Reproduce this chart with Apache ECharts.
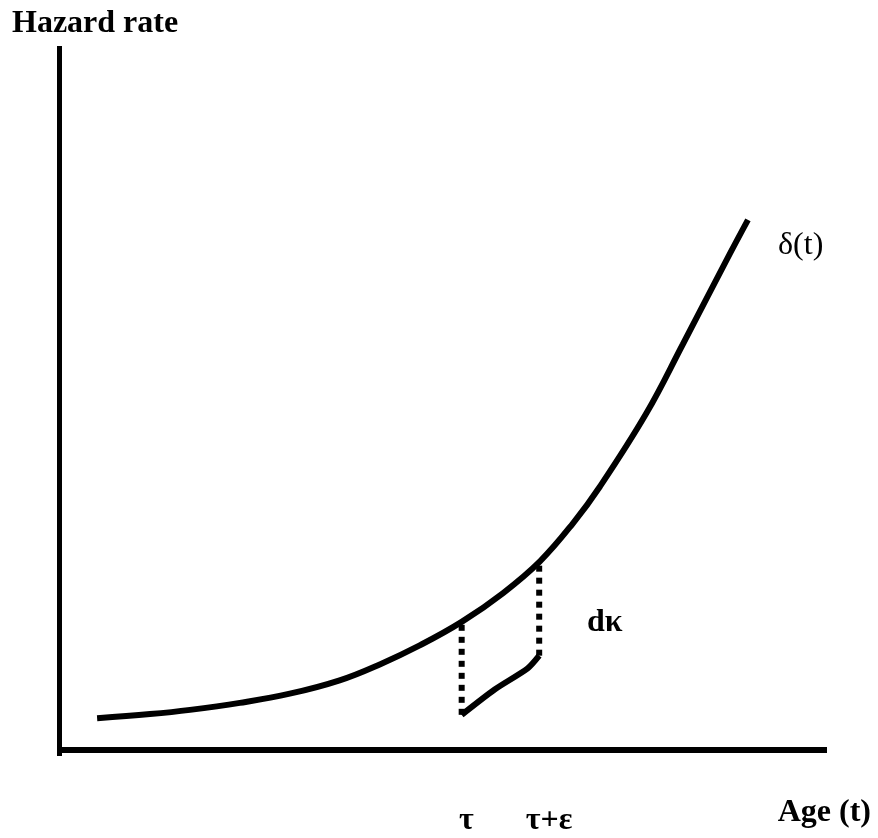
<!DOCTYPE html>
<html>
<head>
<meta charset="utf-8">
<script src="https://cdn.jsdelivr.net/npm/echarts@6/dist/echarts.min.js"></script>
<style>html,body{margin:0;padding:0;background:#fff;}#c{width:878px;height:838px;}</style>
</head>
<body>
<div id="c"></div>
<script>
// Hazard curve delta(t): [age, hazard] in arbitrary units (axis 0..100)
var hazardAges   = [4.9, 11.8, 17.0, 23.5, 30.0, 36.5, 41.8, 47.0, 52.4, 57.8, 62.6, 66.9, 70.4, 76.5, 81.2, 87.4, 89.7];
var hazardValues = [4.5, 5.1, 5.7, 6.7, 8.0, 9.9, 12.2, 14.9, 18.2, 22.3, 26.8, 32.2, 37.4, 47.9, 57.6, 70.6, 75.3];
// Reduced hazard segment after the intervention at tau
var dropAges   = [52.4, 56.7, 61.0, 62.5];
var dropValues = [5.0, 8.6, 11.6, 13.4];
// tau and tau+epsilon
var tau = 52.4, tauEps = 62.5;
var tauHazard = 18.2, tauEpsHazard = 26.6;
var tauLabelPos = [53.0, 63.8];
var tauLabels = ['τ', 'τ+ε'];

var font = '"Liberation Serif", "DejaVu Serif", serif';

function pairs(xs, ys) { return xs.map(function (x, i) { return [x, ys[i]]; }); }

var chart = echarts.init(document.getElementById('c'), null, { renderer: 'canvas' });
chart.setOption({
  backgroundColor: '#ffffff',
  animation: false,
  grid: { left: 59.5, right: 51, top: 46, bottom: 82 },
  xAxis: {
    type: 'value', min: 0, max: 100,
    axisLine: { show: true, onZero: true, lineStyle: { color: '#000', width: 6, cap: 'butt' } },
    axisTick: { show: false },
    splitLine: { show: false },
    axisLabel: {
      show: true,
      customValues: tauLabelPos,
      formatter: function (v) {
        var i = tauLabelPos.indexOf(v);
        return i >= 0 ? tauLabels[i] : '';
      },
      margin: 65,
      verticalAlign: 'middle',
      color: '#000',
      fontFamily: font,
      fontWeight: 'bold',
      fontSize: 32
    }
  },
  yAxis: {
    type: 'value', min: -0.85, max: 100,
    axisLine: { show: true, lineStyle: { color: '#000', width: 5, cap: 'butt' } },
    axisTick: { show: false },
    axisLabel: { show: false },
    splitLine: { show: false }
  },
  series: [
    {
      type: 'line', data: pairs(hazardAges, hazardValues), smooth: 0.4,
      symbol: 'none', lineStyle: { color: '#000', width: 6 }
    },
    {
      type: 'line', data: pairs(dropAges, dropValues), smooth: 0.25,
      symbol: 'none', lineStyle: { color: '#000', width: 6 }
    },
    {
      type: 'line', data: [[tau, dropValues[0]], [tau, tauHazard]],
      symbol: 'none', lineStyle: { color: '#000', width: 6, type: [6, 6], cap: 'butt' }
    },
    {
      type: 'line', data: [[tauEps, dropValues[dropValues.length - 1]], [tauEps, tauEpsHazard]],
      symbol: 'none', lineStyle: { color: '#000', width: 6, type: [6, 6], cap: 'butt' }
    }
  ],
  graphic: [
    { type: 'text', x: 12, y: 24, style: { text: 'Hazard rate', font: 'bold 32px ' + font, fill: '#000', textAlign: 'left', textVerticalAlign: 'middle' } },
    { type: 'text', x: 778, y: 246, style: { text: 'δ(t)', font: '32px ' + font, fill: '#000', textAlign: 'left', textVerticalAlign: 'middle' } },
    { type: 'text', x: 587, y: 623, style: { text: 'dκ', font: 'bold 32px ' + font, fill: '#000', textAlign: 'left', textVerticalAlign: 'middle' } },
    { type: 'text', x: 871, y: 813, style: { text: 'Age (t)', font: 'bold 32px ' + font, fill: '#000', textAlign: 'right', textVerticalAlign: 'middle' } }
  ]
});
</script>
</body>
</html>
